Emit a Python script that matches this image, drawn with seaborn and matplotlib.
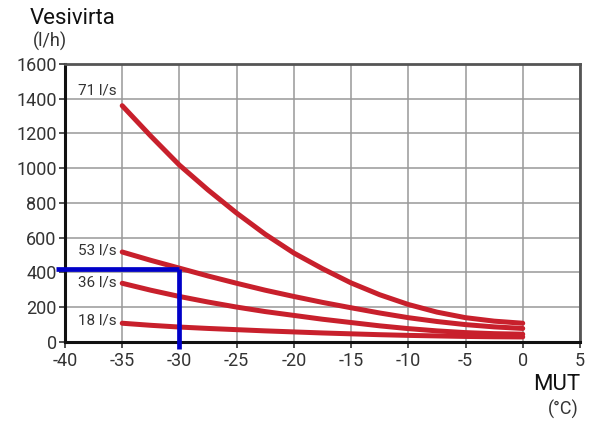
import numpy as np
import pandas as pd
import matplotlib
matplotlib.use("Agg")
import matplotlib.pyplot as plt
import seaborn as sns

# Ulkolampotila (MUT) ja vesivirrat eri ilmavirroilla
mut = [-35, -32.5, -30, -27.5, -25, -22.5, -20, -17.5, -15, -12.5, -10, -7.5, -5, -2.5, 0]
virta_71 = [1360, 1185, 1018, 875, 742, 620, 512, 422, 340, 272, 216, 172, 140, 120, 108]
virta_53 = [518, 470, 425, 380, 338, 298, 262, 228, 197, 167, 140, 118, 100, 87, 78]
virta_36 = [338, 298, 262, 230, 201, 175, 153, 131, 112, 93, 77, 64, 54, 48, 45]
virta_18 = [108, 96, 86, 78, 71, 64, 58, 52, 47, 42, 38, 35, 32, 30, 29]
sarjat = ["71 l/s", "53 l/s", "36 l/s", "18 l/s"]
label_y = [1448, 529, 345, 121]

# esimerkkipiste (sininen)
esim_x = -30
esim_y = 420

x_ticks = list(range(-40, 6, 5))
y_ticks = list(range(0, 1601, 200))

df = pd.DataFrame({
    "MUT": mut * 4,
    "virta": virta_71 + virta_53 + virta_36 + virta_18,
    "sarja": [s for s in sarjat for _ in mut],
})

sns.set_style("white")
plt.rcParams["font.family"] = ["Roboto", "DejaVu Sans"]

fig = plt.figure(figsize=(5.93, 4.23), dpi=100)
ax = fig.add_axes([0.1096, 0.1915, 0.8684, 0.6572])

red = "#c8202c"
sns.lineplot(data=df, x="MUT", y="virta", units="sarja", estimator=None,
             color=red, linewidth=3.6, ax=ax, solid_capstyle="round",
             solid_joinstyle="round", zorder=3)

ax.set_xlim(-40, 5)
ax.set_ylim(0, 1600)
ax.set_xticks(x_ticks)
ax.set_yticks(y_ticks)
ax.set_xticklabels([str(t) for t in x_ticks])
ax.tick_params(axis="both", labelsize=13, colors="#333333", length=4,
               width=1.2, direction="out", bottom=True, left=True)
ax.tick_params(axis="x", pad=3)
ax.tick_params(axis="y", pad=2)
ax.grid(True, color="#999999", linewidth=1.1)
ax.set_axisbelow(True)
ax.set_xlabel("")
ax.set_ylabel("")

for side in ["left", "bottom"]:
    ax.spines[side].set_color("#111111")
    ax.spines[side].set_linewidth(2.2)
for side in ["top", "right"]:
    ax.spines[side].set_color("#555555")
    ax.spines[side].set_linewidth(2.0)

# sarjojen nimet
for nimi, yy in zip(sarjat, label_y):
    ax.text(-35.5, yy, nimi, ha="right", va="center", fontsize=11,
            color="#333333")

# sininen esimerkki
ax.plot([-40.8, esim_x], [esim_y, esim_y], color="#0000c8", linewidth=3.4,
        clip_on=False, zorder=4, solid_capstyle="butt")
ax.plot([esim_x, esim_x], [esim_y, -38], color="#0000c8", linewidth=3.4,
        clip_on=False, zorder=4, solid_capstyle="butt")

fig.text(0.050, 0.957, "Vesivirta", fontsize=16, color="#111111", ha="left", va="center")
fig.text(0.055, 0.903, "(l/h)", fontsize=13, color="#333333", ha="left", va="center")
fig.text(0.978, 0.09, "MUT", fontsize=16, color="#111111", ha="right", va="center")
fig.text(0.976, 0.031, "(°C)", fontsize=13, color="#333333", ha="right", va="center")

fig.savefig("out.png", dpi=100)
